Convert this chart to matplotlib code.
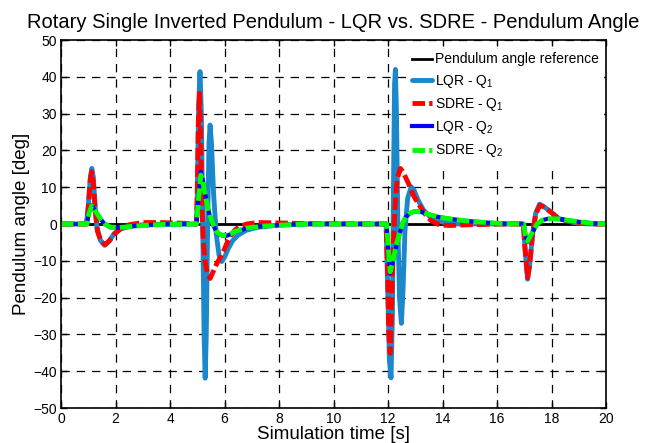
import matplotlib
matplotlib.use("Agg")
import matplotlib.pyplot as plt

plt.rcParams['font.family'] = ['Liberation Sans', 'DejaVu Sans']
plt.rcParams['mathtext.fontset'] = 'custom'
plt.rcParams['mathtext.rm'] = 'Liberation Sans'
plt.rcParams['mathtext.it'] = 'Liberation Sans'
plt.rcParams['lines.scale_dashes'] = False

# ---------------- data ----------------
title = "Rotary Single Inverted Pendulum - LQR vs. SDRE - Pendulum Angle"
xlabel = "Simulation time [s]"
ylabel = "Pendulum angle [deg]"
labels = ["Pendulum angle reference", r"LQR - Q$_1$", r"SDRE - Q$_1$",
          r"LQR - Q$_2$", r"SDRE - Q$_2$"]

t_ref = [0, 20]
v_ref = [0, 0]

t_lqr1 = [0, 0.93, 1.0, 1.08, 1.13, 1.18, 1.25, 1.32, 1.45, 1.6, 1.75, 1.95, 2.2, 2.6, 3.2,
          4.97, 5.0, 5.05, 5.1, 5.15, 5.2, 5.25, 5.29, 5.33, 5.38, 5.43, 5.47, 5.52, 5.6, 5.7,
          5.8, 5.9, 6.0, 6.15, 6.3, 6.5, 6.8, 7.2, 8.0, 9.0,
          11.93, 11.98, 12.05, 12.11, 12.16, 12.2, 12.24, 12.27, 12.31, 12.36, 12.42, 12.49,
          12.55, 12.62, 12.72, 12.85, 12.95, 13.1, 13.3, 13.6, 14.0, 14.6,
          16.97, 17.02, 17.12, 17.2, 17.3, 17.42, 17.56, 17.7, 17.96, 18.26, 18.8, 19.5, 20]
v_lqr1 = [0, 0, 5, 13, 15.1, 13, 5, -1, -4.5, -5.8, -4.8, -2.6, -1.3, -0.5, -0.1,
          0, 8, 32, 41.4, 30, 0, -30, -41.9, -30, 0, 22, 26.9, 22, 8, -3,
          -8.5, -10.2, -9, -6.5, -4.5, -3, -1.7, -0.9, -0.3, 0,
          0, -15, -37, -41.8, -25, 10, 38, 42, 30, 0, -20, -27,
          -18, -2, 7, 10.1, 9.3, 6.5, 3.8, 1.5, 0.5, 0,
          0, -6, -15, -11, -3, 3, 5.4, 4.8, 3.4, 1.5, 0.4, 0, 0]

t_sdre1 = [0, 0.93, 1.0, 1.07, 1.13, 1.19, 1.26, 1.34, 1.47, 1.62, 1.78, 1.95, 2.2, 2.5, 3.0,
           3.6, 4.5, 4.97, 5.0, 5.04, 5.08, 5.12, 5.17, 5.22, 5.3, 5.4, 5.47, 5.55, 5.7, 5.85,
           5.96, 6.1, 6.2, 6.4, 6.6, 6.82, 7.2, 8.0, 9.0,
           11.93, 11.98, 12.03, 12.08, 12.12, 12.18, 12.25, 12.33, 12.45, 12.55, 12.75, 12.95,
           13.18, 13.4, 13.55, 13.75, 13.92, 14.3, 15.0, 16.0,
           16.97, 17.02, 17.12, 17.2, 17.3, 17.42, 17.58, 17.72, 17.96, 18.26, 18.8, 19.5, 20]
v_sdre1 = [0, 0, 4, 12, 14.2, 11, 3, -2, -4.8, -5.6, -4.5, -2.8, -1.2, -0.2, 0.4,
           0.4, 0.2, 0, 8, 28, 35.5, 25, 5, -5, -11, -14, -14.8, -13.5, -11, -9,
           -7.5, -5, -3.4, -1.5, -0.5, 0, 0.4, 0.3, 0.1,
           0, -12, -30, -35.1, -25, -8, 4, 12, 15.1, 14.2, 11, 7.5,
           4.7, 2.3, 1.1, 0.2, -0.3, -0.4, -0.2, 0,
           0, -6, -14.6, -11, -3, 2.8, 5.1, 4.6, 3.3, 1.5, 0.4, 0, 0]

t_lqr2 = [0, 0.95, 1.02, 1.13, 1.25, 1.43, 1.6, 1.8, 2.1, 2.5, 3.0, 3.8,
          4.97, 5.03, 5.13, 5.2, 5.29, 5.38, 5.47, 5.6, 5.72, 5.9, 6.08, 6.25, 6.39, 6.82,
          7.4, 8.04, 9.0,
          11.95, 12.0, 12.08, 12.17, 12.26, 12.35, 12.45, 12.55, 12.65, 12.8, 12.95, 13.2,
          13.5, 13.8, 14.16, 14.8, 15.4, 16.2,
          16.98, 17.04, 17.12, 17.25, 17.47, 17.65, 17.85, 18.2, 18.6, 19.0, 19.5, 20]
v_lqr2 = [0, 0, 3, 5.2, 3.5, 1.5, 0, -0.9, -1.0, -0.7, -0.4, -0.1,
          0, 6, 14.2, 12, 8.3, 4.5, 2, -0.5, -2.5, -3.1, -3.2, -2.7, -2.1, -1.2,
          -0.6, -0.3, 0,
          0, -6, -13.4, -10.5, -7.5, -4.5, -2.1, 0.5, 1.8, 2.9, 3.4, 3.3,
          2.6, 2.0, 1.5, 0.9, 0.5, 0.1,
          0, -3, -4.9, -3, 0, 1.0, 1.4, 1.4, 1.0, 0.6, 0.2, 0]

t_sdre2 = [0, 0.95, 1.02, 1.13, 1.25, 1.43, 1.6, 1.8, 2.1, 2.5, 3.0, 3.8,
           4.97, 5.03, 5.13, 5.2, 5.29, 5.38, 5.47, 5.6, 5.72, 5.9, 6.08, 6.25, 6.39, 6.82,
           7.4, 8.04, 9.0,
           11.95, 12.0, 12.08, 12.17, 12.26, 12.35, 12.45, 12.55, 12.65, 12.8, 12.95, 13.2,
           13.5, 13.8, 14.16, 14.8, 15.4, 16.2,
           16.98, 17.04, 17.12, 17.25, 17.47, 17.65, 17.85, 18.2, 18.6, 19.0, 19.5, 20]
v_sdre2 = [0, 0, 2.8, 5.0, 3.6, 1.6, 0.1, -0.8, -1.0, -0.7, -0.4, -0.1,
           0, 5.5, 13.3, 11.6, 8.2, 4.6, 2.1, -0.4, -2.3, -3.0, -3.1, -2.6, -2.0, -1.1,
           -0.6, -0.3, 0,
           0, -5.8, -13.0, -10.3, -7.3, -4.4, -2.0, 0.5, 1.8, 2.9, 3.4, 3.3,
           2.6, 2.0, 1.5, 0.9, 0.5, 0.1,
           0, -3, -4.7, -2.9, 0, 1.0, 1.4, 1.4, 1.0, 0.6, 0.2, 0]

x_ticks = [0, 2, 4, 6, 8, 10, 12, 14, 16, 18, 20]
y_ticks = [-50, -40, -30, -20, -10, 0, 10, 20, 30, 40, 50]

# ---------------- figure ----------------
fig = plt.figure(figsize=(6.64, 4.43), dpi=100)
ax = fig.add_axes([0.0919, 0.079, 0.8208, 0.8307])

ax.plot(t_ref, v_ref, color='black', lw=2.0, label=labels[0])
ax.plot(t_lqr1, v_lqr1, color='#1a88ca', lw=3.5, solid_joinstyle='round',
        solid_capstyle='round', label=labels[1])
ax.plot(t_sdre1, v_sdre1, color='#ff0000', lw=3.5, ls=(0, (9, 3)),
        dash_joinstyle='round', label=labels[2])
ax.plot(t_lqr2, v_lqr2, color='#0000ff', lw=3.0, label=labels[3])
ax.plot(t_sdre2, v_sdre2, color='#00ff00', lw=3.5, ls=(0, (9, 3)),
        dash_joinstyle='round', label=labels[4])

ax.set_xlim(0, 20)
ax.set_ylim(-50, 50)
ax.set_xticks(x_ticks)
ax.set_yticks(y_ticks)
ax.tick_params(direction='in', length=4, width=1, top=True, right=True,
               labelsize=10, pad=3, colors='black')
ax.grid(True, color='black', ls=(0, (6, 5)), lw=0.9)
for s in ax.spines.values():
    s.set_linewidth(1.2)

ax.set_title(title, fontsize=14.5, pad=8.5)
ax.set_xlabel(xlabel, fontsize=13.5, labelpad=0)
ax.set_ylabel(ylabel, fontsize=13.5, labelpad=2)

leg = ax.legend(loc='upper right', bbox_to_anchor=(1.0, 0.985), fontsize=10,
                frameon=True, framealpha=1.0, edgecolor='white', fancybox=False,
                handlelength=1.45, handletextpad=0.22, labelspacing=0.45,
                borderaxespad=0.25, borderpad=0.25)

fig.savefig("out.png", dpi=100)
